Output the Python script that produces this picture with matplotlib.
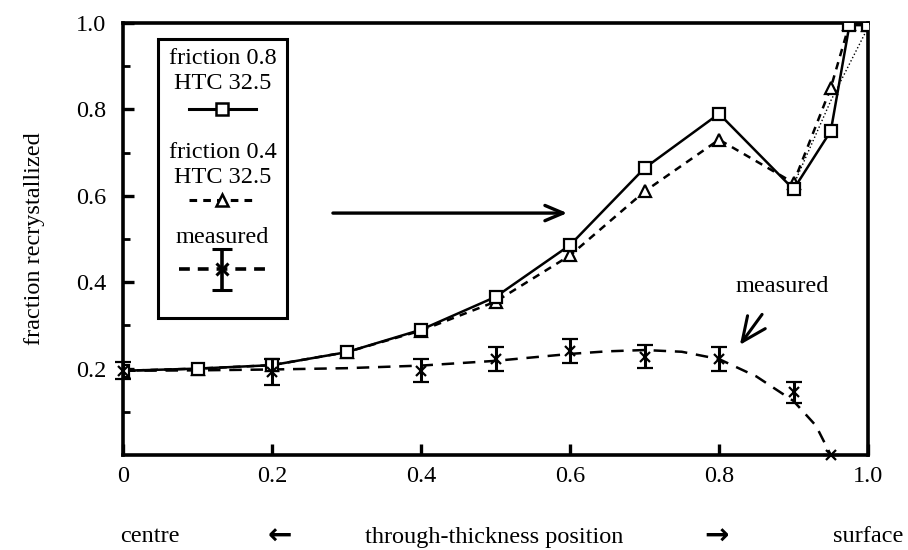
import matplotlib
matplotlib.use("Agg")
import matplotlib.pyplot as plt
from matplotlib.lines import Line2D

plt.rcParams['font.family'] = ['Liberation Serif', 'DejaVu Serif']
plt.rcParams['mathtext.fontset'] = 'stix'

# ---- data ----
x_model = [0, 0.1, 0.2, 0.3, 0.4, 0.5, 0.6, 0.7, 0.8, 0.9, 0.95, 0.975, 1.0]
f08 = [0.195, 0.200, 0.208, 0.238, 0.290, 0.366, 0.486, 0.664, 0.790, 0.615, 0.750, 0.995, 0.995]
f04 = [0.195, 0.200, 0.208, 0.238, 0.288, 0.355, 0.462, 0.610, 0.730, 0.630, 0.850, 0.998, 0.995]

x_dot = [0.9, 0.95, 1.0]
y_dot = [0.625, 0.82, 0.99]

x_meas = [0, 0.2, 0.4, 0.5, 0.6, 0.7, 0.8, 0.9, 0.95]
y_meas = [0.195, 0.192, 0.195, 0.222, 0.240, 0.228, 0.222, 0.145, 0.0]
e_meas = [0.020, 0.030, 0.027, 0.028, 0.028, 0.026, 0.027, 0.025, 0.0]

x_fit = [0, 0.1, 0.2, 0.3, 0.4, 0.5, 0.6, 0.65, 0.7, 0.75, 0.8, 0.85, 0.9, 0.93, 0.95]
y_fit = [0.195, 0.196, 0.198, 0.201, 0.207, 0.218, 0.234, 0.240, 0.243, 0.239, 0.222, 0.182, 0.125, 0.068, 0.0]

xticks = [0, 0.2, 0.4, 0.6, 0.8, 1.0]
xtick_labels = ['0', '0.2', '0.4', '0.6', '0.8', '1.0']
yticks = [0.2, 0.4, 0.6, 0.8, 1.0]
ytick_labels = ['0.2', '0.4', '0.6', '0.8', '1.0']

FS = 17.5

fig = plt.figure(figsize=(9.08, 5.5), dpi=100)
ax = fig.add_axes([0.1355, 0.1727, 0.8205, 0.7855])
ax.set_xlim(0, 1.0)
ax.set_ylim(0, 1.0)

k = 'black'
ax.plot(x_model, f08, '-', color=k, lw=1.8, marker='s', ms=9, mfc='white', mec=k, mew=1.6, zorder=4)
ax.plot(x_model, f04, '--', color=k, lw=1.8, dashes=(3, 2.5), marker='^', ms=9, mfc='white', mec=k, mew=1.6, zorder=3)
ax.plot(x_dot, y_dot, ':', color=k, lw=1.0, zorder=2)
ax.plot(x_fit, y_fit, '--', color=k, lw=1.8, dashes=(5, 3.5), zorder=2, clip_on=False)
ax.errorbar(x_meas, y_meas, yerr=e_meas, fmt='x', color=k, ms=7, mew=1.6,
            ecolor=k, elinewidth=2.2, capsize=6, capthick=2.8, zorder=5, clip_on=False)

for s in ax.spines.values():
    s.set_linewidth(2.6)
ax.set_xticks(xticks)
ax.set_xticklabels(xtick_labels)
ax.set_yticks(yticks)
ax.set_yticklabels(ytick_labels)
ax.set_yticks([0.1, 0.3, 0.5, 0.7, 0.9], minor=True)
ax.tick_params(axis='x', direction='in', length=8, width=2.4, pad=8, labelsize=FS)
ax.tick_params(axis='y', direction='in', length=8, width=2.4, pad=12, labelsize=FS)
ax.tick_params(axis='y', which='minor', direction='in', length=5, width=2.0)
ax.set_ylabel('fraction recrystallized', fontsize=FS, labelpad=22)

# annotation arrows
ax.annotate('', xy=(0.60, 0.56), xytext=(0.278, 0.56),
            arrowprops=dict(arrowstyle='->,head_length=1.3,head_width=0.55', lw=2.4, color=k))
ax.annotate('measured', xy=(0.828, 0.255), xytext=(0.885, 0.39), fontsize=FS, ha='center', va='center',
            arrowprops=dict(arrowstyle='->,head_length=1.0,head_width=0.45', lw=2.2, color=k,
                            shrinkA=13, shrinkB=0))

# manual legend box
lx0, lx1, ly0, ly1 = 0.047, 0.220, 0.317, 0.962
tf = ax.transAxes
ax.add_patch(plt.Rectangle((lx0, ly0), lx1 - lx0, ly1 - ly0, transform=tf,
                           fill=False, lw=2.2, ec=k, zorder=6))
cx = (lx0 + lx1) / 2
ax.text(cx, 0.918, 'friction 0.8', transform=tf, ha='center', va='center', fontsize=FS)
ax.text(cx, 0.860, 'HTC 32.5', transform=tf, ha='center', va='center', fontsize=FS)
ax.add_line(Line2D([cx - 0.045, cx + 0.045], [0.800, 0.800], transform=tf, color=k, lw=2.2))
ax.add_line(Line2D([cx], [0.800], transform=tf, marker='s', ms=8, mfc='white', mec=k, mew=1.8))
ax.text(cx, 0.700, 'friction 0.4', transform=tf, ha='center', va='center', fontsize=FS)
ax.text(cx, 0.642, 'HTC 32.5', transform=tf, ha='center', va='center', fontsize=FS)
ax.add_line(Line2D([cx - 0.045, cx + 0.045], [0.590, 0.590], transform=tf, color=k, lw=2.2, ls='--', dashes=(2.5, 2)))
ax.add_line(Line2D([cx], [0.590], transform=tf, marker='^', ms=8, mfc='white', mec=k, mew=1.8))
ax.text(cx, 0.503, 'measured', transform=tf, ha='center', va='center', fontsize=FS)
ax.add_line(Line2D([cx - 0.058, cx + 0.058], [0.430, 0.430], transform=tf, color=k, lw=2.6, ls='--', dashes=(3, 2.2)))
ax.errorbar([cx], [0.430], yerr=[0.048], transform=tf, fmt='x', color=k, ms=8, mew=2.2,
            elinewidth=2.6, capsize=7, capthick=2.8, zorder=7, clip_on=False)

# bottom caption row
fy = 1 - 537 / 550
fig.text(150 / 908, fy, 'centre', ha='center', va='center', fontsize=FS)
fig.text(280 / 908, fy, '\u2190', ha='center', va='center', fontsize=21, fontweight='bold',
         family=['DejaVu Sans'])
fig.text(494 / 908, fy, 'through-thickness position', ha='center', va='center', fontsize=FS)
fig.text(716 / 908, fy, '\u2192', ha='center', va='center', fontsize=21, fontweight='bold',
         family=['DejaVu Sans'])
fig.text(868 / 908, fy, 'surface', ha='center', va='center', fontsize=FS)

fig.savefig('out.png', dpi=100)
